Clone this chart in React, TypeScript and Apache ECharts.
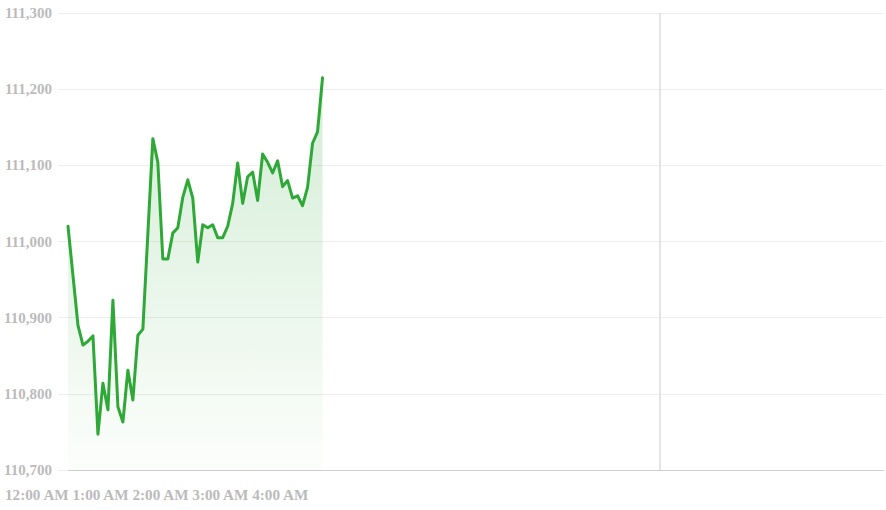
import React, { useEffect, useRef } from "react";
import * as echarts from "echarts";

// Price samples (5‑minute steps starting 12:00 AM)
const prices: number[] = [
  111020, 110955, 110890, 110864, 110869, 110876, 110747, 110814, 110779, 110923,
  110783, 110763, 110831, 110792, 110877, 110885, 111010, 111135, 111104, 110977,
  110977, 111011, 111018, 111058, 111081, 111057, 110973, 111022, 111018, 111022,
  111005, 111005, 111020, 111050, 111103, 111050, 111085, 111091, 111054, 111115,
  111104, 111090, 111106, 111072, 111080, 111057, 111060, 111047, 111071, 111129,
  111144, 111215,
];
const timeLabels: string[] = ["12:00 AM", "1:00 AM", "2:00 AM", "3:00 AM", "4:00 AM"];
const xMax = 163.5;
const markerX = 118.6;
const yMin = 110700;
const yMax = 111300;
const yStep = 100;

export default function App() {
  const ref = useRef<HTMLDivElement>(null);
  useEffect(() => {
    if (!ref.current) return;
    const chart = echarts.init(ref.current, undefined, { renderer: "svg" });
    const font = "'Liberation Serif', 'Times New Roman', serif";
    chart.setOption({
      animation: false,
      grid: { left: 68, right: 2, top: 13, bottom: 40 },
      xAxis: {
        type: "value",
        min: 0,
        max: xMax,
        axisLine: { show: true, lineStyle: { color: "#cfcfcf", width: 1 } },
        axisTick: { show: false },
        axisLabel: { show: false },
        splitLine: { show: false },
      },
      yAxis: {
        type: "value",
        min: yMin,
        max: yMax,
        interval: yStep,
        axisLine: { show: false },
        axisTick: { show: true, length: 10, lineStyle: { color: "#eeeeee" } },
        axisLabel: {
          margin: 16,
          color: "#bbbbbb",
          fontFamily: font,
          fontWeight: "bold",
          fontSize: 15,
          formatter: (v: number) => v.toLocaleString("en-US"),
        },
        splitLine: { show: true, lineStyle: { color: "#eeeeee", width: 1 } },
      },
      series: [
        {
          type: "line",
          data: prices.map((p, i) => [i, p]),
          symbol: "none",
          lineStyle: { color: "#2ea836", width: 3, join: "round", cap: "round" },
          itemStyle: { color: "#2ea836" },
          areaStyle: {
            color: new echarts.graphic.LinearGradient(0, 0, 0, 1, [
              { offset: 0, color: "rgba(46,168,54,0.3)" },
              { offset: 1, color: "rgba(46,168,54,0.02)" },
            ]),
          },
          markLine: {
            silent: true,
            symbol: "none",
            label: { show: false },
            lineStyle: { color: "#dddddd", width: 1.5, type: "solid" },
            data: [{ xAxis: markerX }],
          },
        },
      ],
      graphic: [
        {
          type: "text",
          left: 5,
          top: 487,
          style: {
            text: timeLabels.join(" "),
            fill: "#bbbbbb",
            font: `bold 15.2px ${font}`,
          },
        },
      ],
    });
    return () => chart.dispose();
  }, []);
  return (
    <div
      ref={ref}
      style={{ position: "absolute", left: 0, top: 0, width: 886, height: 510 }}
    />
  );
}
